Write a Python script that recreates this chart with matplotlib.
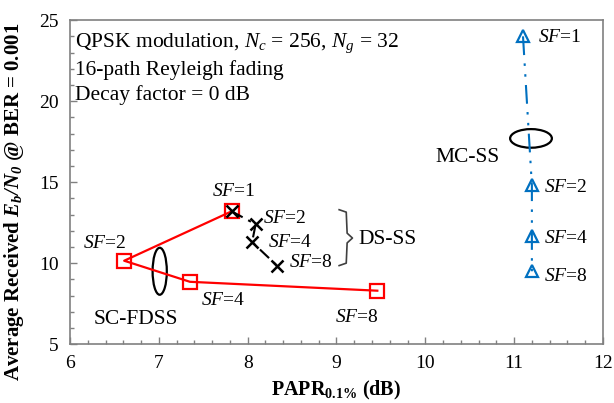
import matplotlib
matplotlib.use("Agg")
import matplotlib.pyplot as plt
from matplotlib.patches import Ellipse
from matplotlib.ticker import MultipleLocator

plt.rcParams["font.family"] = ["Liberation Serif", "DejaVu Serif"]
plt.rcParams["mathtext.fontset"] = "custom"
plt.rcParams["mathtext.rm"] = "Liberation Serif"
plt.rcParams["mathtext.it"] = "Liberation Serif:italic"
plt.rcParams["mathtext.bf"] = "Liberation Serif:italic:bold"
plt.rcParams["mathtext.sf"] = "Liberation Serif:bold"

# PAPR (dB) and required Eb/N0 (dB) for SF = 1, 2, 4, 8
sf_values = [1, 2, 4, 8]
sc_fdss_papr = [7.82, 6.61, 7.35, 9.46]
sc_fdss_ebn0 = [13.2, 10.15, 8.85, 8.3]
ds_ss_papr = [7.82, 8.09, 8.05, 8.33]
ds_ss_ebn0 = [13.2, 12.4, 11.3, 9.85]
mc_ss_papr = [11.10, 11.20, 11.20, 11.20]
mc_ss_ebn0 = [24.0, 14.8, 11.7, 9.5]

red = "#FF0000"
blue = "#0070C0"
fs = 14
fs_big = 15.5

fig = plt.figure(figsize=(6.14, 4.03), dpi=100)
ax = fig.add_axes([0.114, 0.146, 0.868, 0.804])

ax.plot(sc_fdss_papr, sc_fdss_ebn0, color=red, lw=1.6, marker="s", ms=9.5,
        mfc="none", mec=red, mew=1.6, zorder=3)
ax.plot(ds_ss_papr, ds_ss_ebn0, color="black", lw=1.5, ls=(0, (6, 3, 1.5, 3)),
        marker="x", ms=9, mew=1.8, zorder=4)
ax.plot(mc_ss_papr, mc_ss_ebn0, color=blue, lw=1.5, ls=(0, (9, 4, 1.2, 4, 1.2, 4)),
        marker="^", ms=9, mfc="none", mec=blue, mew=1.6, zorder=3)

ax.set_xlim(6, 12)
ax.set_ylim(5, 25)
ax.xaxis.set_major_locator(MultipleLocator(1))
ax.xaxis.set_minor_locator(MultipleLocator(0.2))
ax.yaxis.set_major_locator(MultipleLocator(5))
ax.yaxis.set_minor_locator(MultipleLocator(1))
ax.tick_params(which="both", direction="in", color="#808080", labelsize=fs,
               pad=8)
ax.tick_params(which="major", length=5, width=1)
ax.tick_params(which="minor", length=3, width=1)
for sp in ax.spines.values():
    sp.set_color("#808080")
    sp.set_linewidth(1.2)

ax.set_xlabel(r"PAPR$_{\mathsf{0.1\%}}$ (dB)", fontsize=14.5, fontweight="bold",
              labelpad=5)
ax.set_ylabel(r"Average Received $\mathbf{E_b/N_0}$ @ BER = 0.001", fontsize=15,
              fontweight="bold")
ax.yaxis.set_label_coords(-0.083, 0.44)

# condition notes
ax.text(6.06, 23.55, r"QPSK modulation, $N_c$ = 256, $N_g$ = 32", fontsize=fs_big,
        va="center", ha="left")
ax.text(6.06, 21.95, "16-path Reyleigh fading", fontsize=fs_big, va="center", ha="left")
ax.text(6.06, 20.4, "Decay factor = 0 dB", fontsize=fs_big, va="center", ha="left")

sf_fmt = r"$SF$={}"
# SC-FDSS labels
ax.text(7.84, 14.4, sf_fmt.format(1), fontsize=fs, ha="center", va="center")
ax.text(6.39, 11.2, sf_fmt.format(2), fontsize=fs, ha="center", va="center")
ax.text(7.72, 7.7, sf_fmt.format(4), fontsize=fs, ha="center", va="center")
ax.text(9.23, 6.65, sf_fmt.format(8), fontsize=fs, ha="center", va="center")
ax.text(6.74, 6.5, "SC-FDSS", fontsize=fs_big, ha="center", va="center")
ax.add_patch(Ellipse((7.01, 9.5), 0.16, 2.9, fill=False, ec="black", lw=1.6))

# DS-SS labels
ax.text(8.17, 12.75, sf_fmt.format(2), fontsize=fs, ha="left", va="center")
ax.text(8.23, 11.3, sf_fmt.format(4), fontsize=fs, ha="left", va="center")
ax.text(8.47, 10.05, sf_fmt.format(8), fontsize=fs, ha="left", va="center")
ax.text(9.25, 11.45, "DS-SS", fontsize=fs_big, ha="left", va="center")
bx = [9.03, 9.11, 9.12, 9.18, 9.12, 9.11, 9.03]
by = [13.3, 13.15, 11.85, 11.55, 11.25, 10.0, 9.85]
ax.plot(bx, by, color="#404040", lw=1.2)

# MC-SS labels
ax.text(11.27, 23.9, sf_fmt.format(1), fontsize=fs, ha="left", va="center")
ax.text(11.34, 14.7, sf_fmt.format(2), fontsize=fs, ha="left", va="center")
ax.text(11.34, 11.55, sf_fmt.format(4), fontsize=fs, ha="left", va="center")
ax.text(11.34, 9.15, sf_fmt.format(8), fontsize=fs, ha="left", va="center")
ax.text(10.48, 16.5, "MC-SS", fontsize=fs_big, ha="center", va="center")
ax.add_patch(Ellipse((11.19, 17.7), 0.47, 1.15, fill=False, ec="black", lw=1.6))

fig.savefig("out.png", dpi=100)
